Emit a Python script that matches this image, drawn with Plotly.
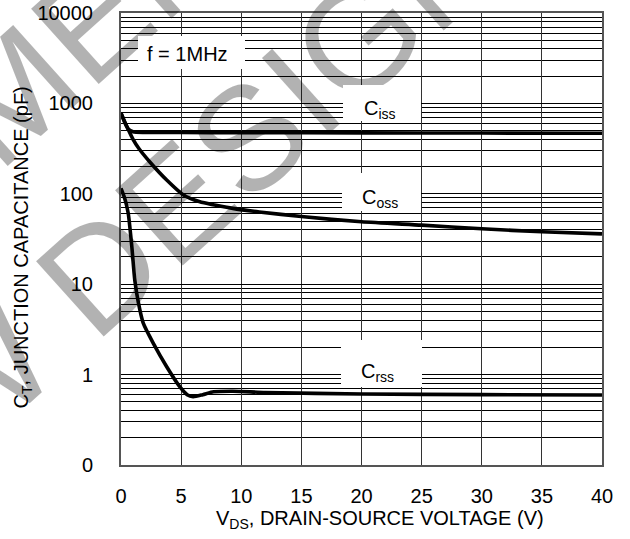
import plotly.graph_objects as go

# ---- data ----
vds_ciss = [0, 0.3, 0.6, 1.0, 2.0, 5.0, 10, 20, 30, 40]
ciss = [780, 620, 520, 485, 478, 476, 475, 472, 470, 467]

vds_coss = [0, 0.5, 1.0, 1.5, 2.4, 3.8, 5.2, 6.5, 9.3, 11.5, 15, 20, 25, 30, 35, 40]
coss = [780, 550, 400, 315, 225, 142, 97, 82, 69, 63, 56, 49, 45, 41, 38, 36]

vds_crss = [0, 0.3, 0.6, 0.9, 1.15, 1.45, 1.85, 2.7, 3.8, 4.9, 5.5, 6.0, 6.8, 7.7, 9.3, 12, 20, 30, 40]
crss = [115, 90, 61, 26, 11, 6.2, 3.7, 2.2, 1.22, 0.73, 0.6, 0.57, 0.6, 0.645, 0.655, 0.635, 0.61, 0.6, 0.594]

x_ticks = [0, 5, 10, 15, 20, 25, 30, 35, 40]
y_ticks = [0.1, 1, 10, 100, 1000, 10000]
y_ticktext = ["0", "1", "10", "100", "1000", "10000"]
y_minor = [k * d for d in [0.1, 1, 10, 100, 1000] for k in range(2, 10)]

# ---- layout geometry (window pixels) ----
W, H = 630, 539
PL, PR, PT, PB = 121, 602, 13, 465          # plot area in window pixels
L, T, R, B = PL, PT, W - PR, H - PB
PW, PH = PR - PL, PB - PT


def px(x):
    return (x - PL) / PW


def py(y):
    return (PB - y) / PH


FONT = "Arial, Liberation Sans, sans-serif"
line = dict(color="black", width=3.6, shape="spline", smoothing=0.6)

fig = go.Figure()
fig.add_trace(go.Scatter(x=vds_ciss, y=ciss, mode="lines", line=line, name="Ciss"))
fig.add_trace(go.Scatter(x=vds_coss, y=coss, mode="lines", line=line, name="Coss"))
fig.add_trace(go.Scatter(x=vds_crss, y=crss, mode="lines", line=line, name="Crss"))

annotations = []
# watermark (semi-transparent so lines show through as black)
wm = dict(xref="paper", yref="paper", showarrow=False, textangle=-42,
          font=dict(family=FONT, size=147, color="rgba(0,0,0,0.3)"),
          xanchor="center", yanchor="middle")
annotations.append(dict(wm, text="NOT RECOMMENDED FOR", x=px(-1), y=py(105)))
annotations.append(dict(wm, text="NEW DESIGN", x=px(127), y=py(247)))


# white label boxes
def box(x0, x1, y0, y1):
    return dict(xref="paper", yref="paper", showarrow=False, text=" ",
                x=px((x0 + x1) / 2), y=py((y0 + y1) / 2), xanchor="center", yanchor="middle",
                width=x1 - x0, height=y1 - y0, bgcolor="white", borderpad=0, borderwidth=0)


annotations += [box(138, 245, 36, 69), box(343, 421, 85, 121),
                box(342, 421, 173, 211), box(341, 422, 340, 387)]

lab = dict(xref="paper", yref="paper", showarrow=False, font=dict(family=FONT, size=20, color="black"))
annotations.append(dict(lab, text="f = 1MHz", x=px(187.5), y=py(54), xanchor="center", yanchor="middle"))
annotations.append(dict(lab, text="C<sub>iss</sub>", x=px(362), y=py(110), xanchor="left", yanchor="middle"))
annotations.append(dict(lab, text="C<sub>oss</sub>", x=px(360), y=py(198), xanchor="left", yanchor="middle"))
annotations.append(dict(lab, text="C<sub>rss</sub>", x=px(359), y=py(372), xanchor="left", yanchor="middle"))

# axis titles
annotations.append(dict(lab, text="V<sub>DS</sub>, DRAIN-SOURCE VOLTAGE (V)", x=px(380), y=py(519),
                        xanchor="center", yanchor="middle"))
annotations.append(dict(lab, text="C<sub>T</sub>, JUNCTION CAPACITANCE (pF)", x=px(22), y=py(247.5),
                        xanchor="center", yanchor="middle", textangle=-90))

fig.update_layout(
    width=W, height=H,
    margin=dict(l=L, r=R, t=T, b=B, autoexpand=False),
    paper_bgcolor="white", plot_bgcolor="white",
    showlegend=False,
    font=dict(family=FONT, size=20, color="black"),
    annotations=annotations,
)
fig.update_xaxes(range=[0, 40], tickvals=x_ticks, showgrid=True, gridcolor="#333", gridwidth=1,
                 zeroline=False, showline=True, linecolor="#555", linewidth=2, mirror=True,
                 ticks="outside", ticklen=12, tickcolor="rgba(0,0,0,0)", automargin=False,
                 ticklabeloverflow="allow",
                 tickfont=dict(family=FONT, size=20, color="black"))
fig.update_yaxes(type="log", range=[-1, 4], tickvals=y_ticks, ticktext=y_ticktext,
                 showgrid=True, gridcolor="black", gridwidth=1,
                 minor=dict(tickmode="array", tickvals=y_minor, showgrid=True, gridcolor="black", gridwidth=1),
                 zeroline=False, showline=True, linecolor="#555", linewidth=2, mirror=True,
                 ticks="outside", ticklen=22, tickcolor="rgba(0,0,0,0)", automargin=False,
                 ticklabeloverflow="allow",
                 tickfont=dict(family=FONT, size=20, color="black"))

fig.write_html("out.html", config={"displayModeBar": False},
               post_script="document.body.style.margin='0';document.body.style.padding='0';")
